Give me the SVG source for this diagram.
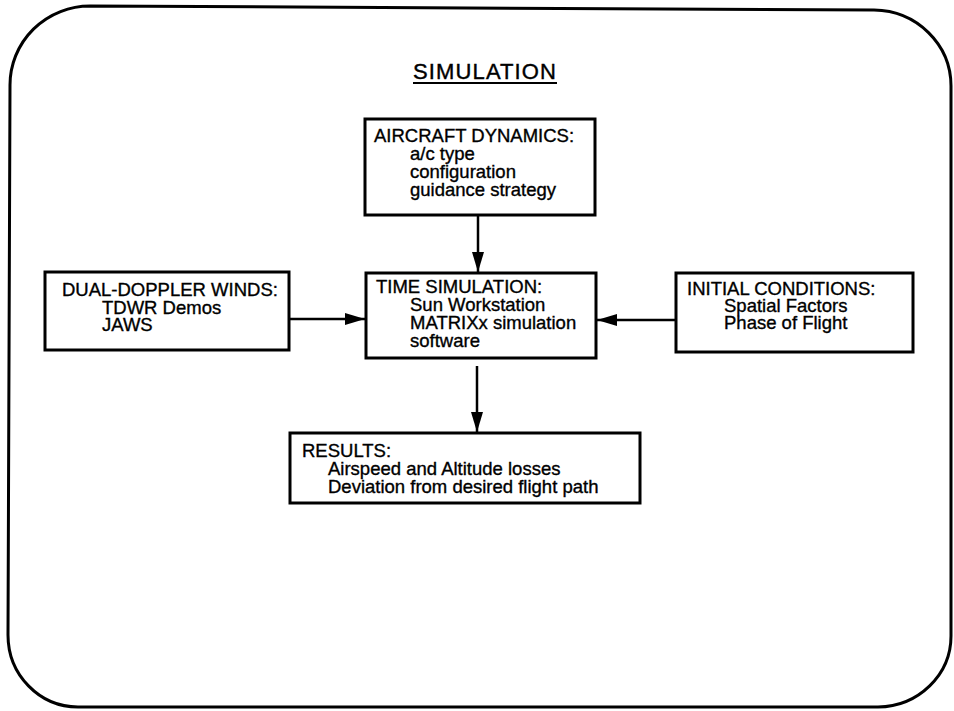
<svg xmlns="http://www.w3.org/2000/svg" width="954" height="711" viewBox="0 0 954 711">
<defs>
<style>
.box{fill:#fff;stroke:#000;stroke-width:3}
.t{font-family:"Liberation Sans",Arial,sans-serif;font-size:18.5px;fill:#000;stroke:#000;stroke-width:0.35}
.title{font-family:"Liberation Sans",Arial,sans-serif;font-size:22px;fill:#000;stroke:#000;stroke-width:0.4}
.conn{stroke:#000;stroke-width:2.5;fill:none}
</style>
<marker id="ah" viewBox="0 0 20 12" refX="20" refY="6" markerWidth="20" markerHeight="12" markerUnits="userSpaceOnUse" orient="auto">
<path d="M0,0 L20,6 L0,12 Z" fill="#000"/>
</marker>
</defs>
<rect width="954" height="711" fill="#fff"/>
<path id="frame" d="M90,6 L874,10 A78,76 0 0 1 951,86 L951,636 A74,71 0 0 1 878,707 L78,707 A70,72 0 0 1 8,635 L10,85 A80,79 0 0 1 90,6 Z" fill="none" stroke="#000" stroke-width="3"/>
<g id="title">
<text class="title" x="413" y="79" textLength="143" lengthAdjust="spacing">SIMULATION</text>
<line x1="413" y1="83" x2="557" y2="83" stroke="#000" stroke-width="2"/>
</g>
<g id="connectors">
<line class="conn" x1="478" y1="215" x2="478" y2="272" marker-end="url(#ah)"/>
<line class="conn" x1="289" y1="319" x2="365" y2="319" marker-end="url(#ah)"/>
<line class="conn" x1="676" y1="320" x2="597" y2="320" marker-end="url(#ah)"/>
<line class="conn" x1="477" y1="366" x2="477" y2="432" marker-end="url(#ah)"/>
</g>
<g id="aircraft">
<rect class="box" x="365" y="119" width="230" height="96"/>
<text class="t"><tspan x="374" y="142">AIRCRAFT DYNAMICS:</tspan><tspan x="410" y="160">a/c type</tspan><tspan x="410" y="178">configuration</tspan><tspan x="410" y="196">guidance strategy</tspan></text>
</g>
<g id="timesim">
<rect class="box" x="366" y="273" width="230" height="85"/>
<text class="t"><tspan x="376" y="293">TIME SIMULATION:</tspan><tspan x="410" y="311">Sun Workstation</tspan><tspan x="410" y="329">MATRIXx simulation</tspan><tspan x="410" y="347">software</tspan></text>
</g>
<g id="dualdoppler">
<rect class="box" x="45" y="272" width="244" height="78"/>
<text class="t"><tspan x="62" y="296">DUAL-DOPPLER WINDS:</tspan><tspan x="102" y="314">TDWR Demos</tspan><tspan x="102" y="331">JAWS</tspan></text>
</g>
<g id="initial">
<rect class="box" x="676" y="273" width="237" height="79"/>
<text class="t"><tspan x="687" y="295">INITIAL CONDITIONS:</tspan><tspan x="724" y="312">Spatial Factors</tspan><tspan x="724" y="329">Phase of Flight</tspan></text>
</g>
<g id="results">
<rect class="box" x="290" y="433" width="350" height="70"/>
<text class="t"><tspan x="302" y="457">RESULTS:</tspan><tspan x="328" y="475">Airspeed and Altitude losses</tspan><tspan x="328" y="493">Deviation from desired flight path</tspan></text>
</g>
</svg>
